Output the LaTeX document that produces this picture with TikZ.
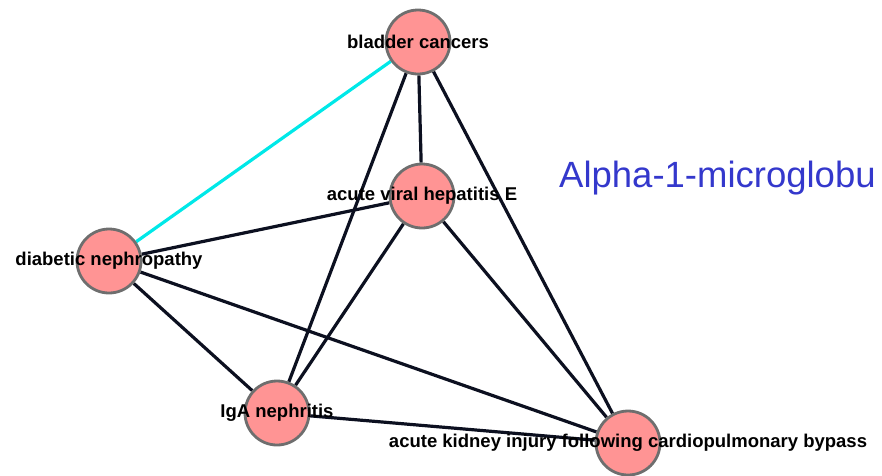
\documentclass[tikz,border=0pt]{standalone}
\usepackage{fontspec}
\setmainfont{Liberation Sans}
\usetikzlibrary{backgrounds}

\definecolor{nodefill}{RGB}{255,148,148}
\definecolor{nodeborder}{RGB}{110,110,110}
\definecolor{linkdark}{RGB}{12,16,32}
\definecolor{linkcyan}{RGB}{0,232,232}
\definecolor{titleblue}{RGB}{52,56,204}

\begin{document}
\begin{tikzpicture}[x=1pt, y=-1pt,
    disease/.style={circle, draw=nodeborder, line width=2.8pt, fill=nodefill, minimum size=64pt, inner sep=0pt},
    name label/.style={font=\fontsize{18.5}{19}\selectfont\bfseries, text=black, inner sep=0pt},
    link/.style={line width=3.2pt, draw=linkdark},
    cyanlink/.style={line width=3.2pt, draw=linkcyan}]
    \useasboundingbox (0,0) rectangle (882,475);

    % Nodes representing the diseases
    \node (bladder) [disease, label={[name label]center:bladder cancers}] at (418,42) {};
    \node (hepE) [disease, label={[name label]center:acute viral hepatitis E}] at (422,196) {};
    \node (diabetic) [disease, label={[name label]center:diabetic nephropathy}] at (109,261) {};
    \node (iga) [disease, label={[name label]center:IgA nephritis}] at (277,413) {};
    \node (aki) [disease, label={[name label]center:acute kidney injury following cardiopulmonary bypass}] at (628,443) {};

    % Title of the network
    \node (title) [anchor=base west, font=\fontsize{36.5}{37}\selectfont, text=titleblue, inner sep=0pt] at (559,187) {Alpha-1-microglobu};

    % Links between the diseases
    \begin{scope}[on background layer]
        \draw[cyanlink] (bladder) -- (diabetic);
        \draw[link] (bladder) -- (hepE);
        \draw[link] (bladder) -- (iga);
        \draw[link] (bladder) -- (aki);
        \draw[link] (hepE) -- (diabetic);
        \draw[link] (hepE) -- (iga);
        \draw[link] (hepE) -- (aki);
        \draw[link] (diabetic) -- (iga);
        \draw[link] (diabetic) -- (aki);
        \draw[link] (iga) -- (aki);
    \end{scope}
\end{tikzpicture}
\end{document}
